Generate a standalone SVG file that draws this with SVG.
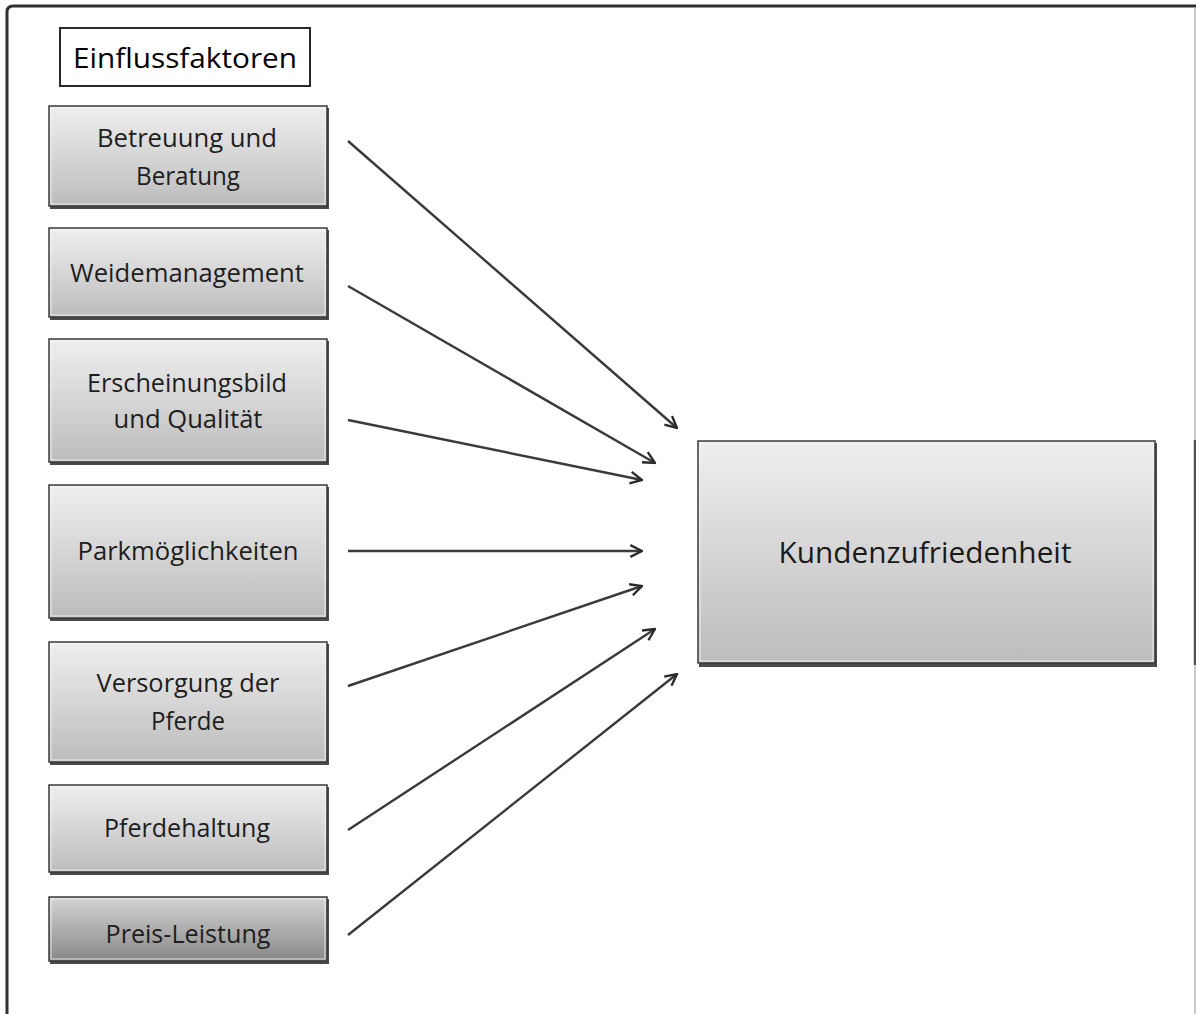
<svg xmlns="http://www.w3.org/2000/svg" width="1196" height="1014" viewBox="0 0 1196 1014">
<style>
.frame{fill:none;stroke:#303030;stroke-width:3}
.shadow{fill:#4a4a4a}
.box{fill:url(#g);stroke:#3a3a3a;stroke-width:1.5}
.boxd{fill:url(#gd);stroke:#3a3a3a;stroke-width:1.5}
.hl{fill:none;stroke:#f8f8f8;stroke-width:1;opacity:0.8}
.t{font-family:"Open Sans","Liberation Sans",sans-serif;font-size:26px;fill:#1e1e1e;text-anchor:middle}
.title{font-family:"Open Sans","Liberation Sans",sans-serif;font-size:28px;fill:#000;text-anchor:middle}
.big{font-family:"Open Sans","Liberation Sans",sans-serif;font-size:30px;fill:#1a1a1a;text-anchor:middle}
.c{fill:none;stroke:#3a3a3a;stroke-width:2.4;marker-end:url(#arr)}
</style>
<defs>
<linearGradient id="g" x1="0" y1="0" x2="0" y2="1">
<stop offset="0" stop-color="#efefef"/>
<stop offset="1" stop-color="#bcbcbc"/>
</linearGradient>
<linearGradient id="gd" x1="0" y1="0" x2="0" y2="1">
<stop offset="0" stop-color="#d4d4d4"/>
<stop offset="1" stop-color="#888888"/>
</linearGradient>
<marker id="arr" viewBox="0 0 12 12" refX="11" refY="6" markerWidth="14" markerHeight="14" markerUnits="userSpaceOnUse" orient="auto">
<path d="M1,1 L11,6 L1,11" fill="none" stroke="#2a2a2a" stroke-width="2"/>
</marker>
</defs>
<rect width="1196" height="1014" fill="#ffffff"/>
<g id="frame">
<path class="frame" d="M7,1014 V12 Q7,6 13,6 H1196"/>
<line x1="1195" y1="8" x2="1195" y2="1014" stroke="#bbbbbb" stroke-width="1.5"/>
<line x1="1195" y1="440" x2="1195" y2="665" stroke="#555555" stroke-width="2.5"/>
</g>
<g id="title">
<rect x="60" y="28" width="250" height="58" fill="#ffffff" stroke="#2a2a2a" stroke-width="2"/>
<text class="title" x="185" y="68" textLength="224" lengthAdjust="spacingAndGlyphs">Einflussfaktoren</text>
</g>
<g id="n1">
<rect class="shadow" x="50" y="108" width="279" height="101"/>
<rect class="box" x="49" y="106" width="278" height="100"/>
<rect class="hl" x="51" y="108" width="274" height="96"/>
<text class="t" x="187" y="147" textLength="180" lengthAdjust="spacingAndGlyphs">Betreuung und</text>
<text class="t" x="188" y="185" textLength="104" lengthAdjust="spacingAndGlyphs">Beratung</text>
</g>
<g id="n2">
<rect class="shadow" x="50" y="230" width="279" height="90"/>
<rect class="box" x="49" y="228" width="278" height="89"/>
<rect class="hl" x="51" y="230" width="274" height="85"/>
<text class="t" x="187" y="282" textLength="234" lengthAdjust="spacingAndGlyphs">Weidemanagement</text>
</g>
<g id="n3">
<rect class="shadow" x="50" y="341" width="279" height="124"/>
<rect class="box" x="49" y="339" width="278" height="123"/>
<rect class="hl" x="51" y="341" width="274" height="119"/>
<text class="t" x="187" y="392" textLength="200" lengthAdjust="spacingAndGlyphs">Erscheinungsbild</text>
<text class="t" x="188" y="428" textLength="149" lengthAdjust="spacingAndGlyphs">und Qualität</text>
</g>
<g id="n4">
<rect class="shadow" x="50" y="487" width="279" height="134"/>
<rect class="box" x="49" y="485" width="278" height="133"/>
<rect class="hl" x="51" y="487" width="274" height="129"/>
<text class="t" x="188" y="560" textLength="221" lengthAdjust="spacingAndGlyphs">Parkmöglichkeiten</text>
</g>
<g id="n5">
<rect class="shadow" x="50" y="644" width="279" height="121"/>
<rect class="box" x="49" y="642" width="278" height="120"/>
<rect class="hl" x="51" y="644" width="274" height="116"/>
<text class="t" x="188" y="692" textLength="183" lengthAdjust="spacingAndGlyphs">Versorgung der</text>
<text class="t" x="188" y="730" textLength="74" lengthAdjust="spacingAndGlyphs">Pferde</text>
</g>
<g id="n6">
<rect class="shadow" x="50" y="787" width="279" height="88"/>
<rect class="box" x="49" y="785" width="278" height="87"/>
<rect class="hl" x="51" y="787" width="274" height="83"/>
<text class="t" x="187" y="837" textLength="166" lengthAdjust="spacingAndGlyphs">Pferdehaltung</text>
</g>
<g id="n7">
<rect class="shadow" x="50" y="899" width="279" height="65"/>
<rect class="boxd" x="49" y="897" width="278" height="64"/>
<rect class="hl" x="51" y="899" width="274" height="60" opacity="0.4"/>
<text class="t" x="188" y="943" textLength="165" lengthAdjust="spacingAndGlyphs">Preis-Leistung</text>
</g>
<g id="target">
<rect class="shadow" x="699" y="443" width="458" height="224"/>
<rect class="box" x="698" y="441" width="457" height="222"/>
<rect class="hl" x="700" y="443" width="453" height="218"/>
<text class="big" x="925" y="563" textLength="293" lengthAdjust="spacingAndGlyphs">Kundenzufriedenheit</text>
</g>
<g id="connectors">
<line class="c" x1="348" y1="141" x2="677" y2="428"/>
<line class="c" x1="348" y1="286" x2="655" y2="463"/>
<line class="c" x1="348" y1="420" x2="642" y2="480"/>
<line class="c" x1="348" y1="551" x2="642" y2="551"/>
<line class="c" x1="348" y1="686" x2="642" y2="586"/>
<line class="c" x1="348" y1="830" x2="655" y2="629"/>
<line class="c" x1="348" y1="935" x2="677" y2="674"/>
</g>
</svg>
